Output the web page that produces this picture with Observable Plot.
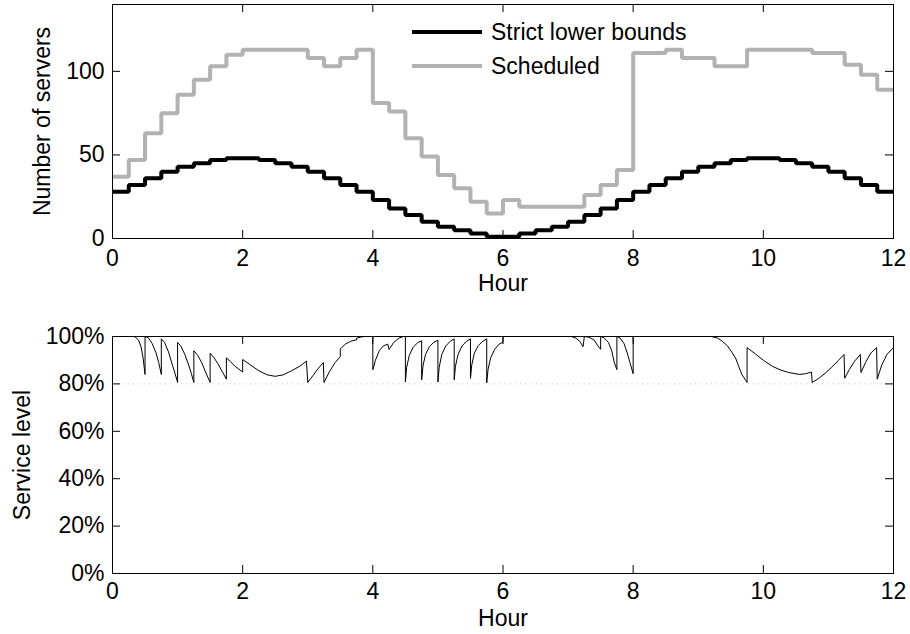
<!DOCTYPE html>
<html><head><meta charset="utf-8">
<script src="https://cdn.jsdelivr.net/npm/d3@7"></script>
<script src="https://cdn.jsdelivr.net/npm/@observablehq/plot@0.6"></script>
<style>
body{margin:0;background:#fff;}
#wrap{position:relative;width:910px;height:634px;font-family:"Liberation Sans",Arial,Helvetica,sans-serif;background:#fff;}
#wrap svg{display:block;}
.legend{position:absolute;left:412px;top:15px;font-size:23px;line-height:34px;color:#000;}
.legend div{display:flex;align-items:center;height:34px;}
.legend span.sw{display:inline-block;width:70px;height:4px;margin-right:9px;}
</style></head><body><div id="wrap"></div>
<script>
// 15-minute interval start times (hours)
const intervalStart = [0,0.25,0.5,0.75,1,1.25,1.5,1.75,2,2.25,2.5,2.75,3,3.25,3.5,3.75,
  4,4.25,4.5,4.75,5,5.25,5.5,5.75,6,6.25,6.5,6.75,7,7.25,7.5,7.75,
  8,8.25,8.5,8.75,9,9.25,9.5,9.75,10,10.25,10.5,10.75,11,11.25,11.5,11.75];
const lowerBounds = [28,32,36,40,43,45,47,48,48,47,45,43,40,36,32,28,
  23,18,14,10,7,5,3,1,1,3,5,7,10,14,18,23,
  28,32,36,40,43,45,47,48,48,47,45,43,40,36,32,28];
const scheduled = [37,47,63,75,86,95,103,110,113,113,113,113,108,103,108,113,
  81,76,60,49,38,30,22,15,23,19,19,19,19,26,32,41,
  111,111,113,108,108,103,103,113,113,113,113,111,111,104,98,89];
const endHour = 12;

// Service level trace (hour, level in %)
const slHour = [0,0.34,0.40,0.44,0.47,0.5,
  0.5,0.55,0.61,0.67,0.71,0.75,
  0.75,0.80,0.86,0.92,0.96,1.0,
  1.0,1.05,1.11,1.17,1.21,1.25,
  1.25,1.31,1.37,1.43,1.5,
  1.5,1.56,1.62,1.68,1.75,
  1.75,1.81,1.88,2.0,
  2.0,2.12,2.25,2.38,2.5,2.62,2.75,2.88,2.98,3.0,
  3.08,3.16,3.24,3.25,
  3.33,3.42,3.5,3.5,3.58,3.66,3.75,3.75,3.82,3.87,4.0,
  4.0,4.04,4.10,4.16,4.23,4.25,4.32,4.40,4.47,4.5,
  4.5,4.52,4.56,4.62,4.69,4.75,
  4.75,4.77,4.81,4.87,4.94,5.0,
  5.0,5.02,5.06,5.12,5.19,5.25,
  5.25,5.27,5.31,5.37,5.44,5.5,
  5.5,5.52,5.56,5.62,5.69,5.75,
  5.75,5.77,5.81,5.87,5.94,6.0,6.0,
  7.05,7.12,7.18,7.23,7.25,
  7.32,7.40,7.46,7.5,7.5,7.55,7.62,7.67,7.71,7.75,
  7.75,7.8,7.86,7.91,7.95,8.0,8.0,
  9.2,9.3,9.37,9.45,9.52,9.58,9.62,9.67,9.75,
  9.75,9.88,10.0,10.14,10.27,10.39,10.55,10.65,10.74,10.75,
  10.85,10.95,11.05,11.15,11.24,11.25,
  11.32,11.40,11.49,11.5,
  11.57,11.65,11.74,11.75,
  11.82,11.9,12.0];
const slLevel = [100,100,98.5,95.5,91,84,
  100,99.5,97,93,89,84,
  99,97.5,93.5,88,84.5,80.6,
  97.5,96,92.5,88,84.5,80.6,
  94,92,89,85,80.6,
  93,91,88.5,85.5,82,
  91,89.5,87.5,85,
  90.3,88,85.5,83.8,83.2,83.8,85.5,87.5,89.6,80.6,
  83.5,86.5,89,80.6,
  85,89,91.5,94.8,96.8,98,98.6,99.3,99.8,100,100,
  86,90,94,96,96.8,94.5,97.5,99.3,100,100,
  80.8,87,92,95.5,97.4,98.2,
  81.7,87.5,92.5,95.8,97.6,98.4,
  80.8,87,92.5,96,98,99,
  81.7,87.5,92.5,96,98,99,
  82.3,88,93,96.2,98,99,
  80.4,86,91,94.5,96.8,97.6,100,
  100,99.3,98,95.7,100,
  99.7,98.5,96,94.6,100,99.5,97.5,94,89,86,
  100,99.3,97,93,89,84.3,100,
  100,99.3,98,96,93.2,90.5,87.5,84,80.6,
  95.3,92.6,90,87.4,85.8,84.8,84,84.3,85,80.6,
  82.3,84.5,87,89.8,92.4,82.4,
  86,89.5,92.4,84.8,
  89,93,95.3,82,
  88,92.5,95.3];

const hourTicks = [0,2,4,6,8,10,12];
const serverTicks = [0,50,100];
const levelTicks = [0,0.2,0.4,0.6,0.8,1];
const slTarget = [0.8];

const FONT = '"Liberation Sans", Arial, Helvetica, sans-serif';
const W = 910, ML = 112, MR = 17;
const innerW = W - ML - MR;

function innerTicks(xt, yt, innerH) {
  const L = 8;
  return [
    Plot.tickX(xt, {x: d => d, insetTop: innerH - L, stroke: "black", strokeWidth: 1}),
    Plot.tickX(xt, {x: d => d, insetBottom: innerH - L, stroke: "black", strokeWidth: 1}),
    Plot.tickY(yt, {y: d => d, insetRight: innerW - L, stroke: "black", strokeWidth: 1}),
    Plot.tickY(yt, {y: d => d, insetLeft: innerW - L, stroke: "black", strokeWidth: 1})
  ];
}

function stepData(vals) {
  const d = intervalStart.map((h, i) => ({h, v: vals[i]}));
  d.push({h: endHour, v: vals[vals.length - 1]});
  return d;
}

const topH = 300, topMT = 4, topMB = 62;
const topPlot = Plot.plot({
  width: W, height: topH, marginLeft: ML, marginRight: MR, marginTop: topMT, marginBottom: topMB,
  style: {fontFamily: FONT, fontSize: "23px", color: "black", background: "white"},
  x: {domain: [0, 12], ticks: hourTicks, tickSize: 0, tickPadding: 11, label: null, tickFormat: d => String(d)},
  y: {domain: [0, 140], ticks: serverTicks, tickSize: 0, tickPadding: 8, label: null, tickFormat: d => String(d)},
  marks: [
    Plot.line(stepData(scheduled), {x: "h", y: "v", curve: "step-after", stroke: "#b2b2b2", strokeWidth: 4, strokeLinejoin: "miter", strokeLinecap: "butt"}),
    Plot.line(stepData(lowerBounds), {x: "h", y: "v", curve: "step-after", stroke: "black", strokeWidth: 4, strokeLinejoin: "miter", strokeLinecap: "butt"}),
    ...innerTicks(hourTicks, serverTicks, topH - topMT - topMB),
    Plot.frame({stroke: "black", strokeWidth: 1}),
    Plot.text(["Hour"], {frameAnchor: "bottom", dy: 36, lineAnchor: "top", textAnchor: "middle", text: d => d, fontSize: 23}),
    Plot.text(["Number of servers"], {frameAnchor: "left", dx: -70, rotate: -90, textAnchor: "middle", lineAnchor: "middle", text: d => d, fontSize: 23})
  ]
});

const botH = 334, botMT = 36, botMB = 61;
const slData = slHour.map((h, i) => ({h, v: slLevel[i] / 100}));
const botPlot = Plot.plot({
  width: W, height: botH, marginLeft: ML, marginRight: MR, marginTop: botMT, marginBottom: botMB,
  style: {fontFamily: FONT, fontSize: "23px", color: "black", background: "white"},
  x: {domain: [0, 12], ticks: hourTicks, tickSize: 0, tickPadding: 9, label: null, tickFormat: d => String(d)},
  y: {domain: [0, 1], ticks: levelTicks, tickSize: 0, tickPadding: 8, label: null, tickFormat: d => Math.round(d * 100) + "%"},
  marks: [
    Plot.ruleY(slTarget, {stroke: "#b8b8b8", strokeWidth: 1, strokeDasharray: "1,4.3"}),
    Plot.line(slData, {x: "h", y: "v", stroke: "black", strokeWidth: 1, curve: "linear"}),
    ...innerTicks(hourTicks, levelTicks, botH - botMT - botMB),
    Plot.frame({stroke: "black", strokeWidth: 1}),
    Plot.text(["Hour"], {frameAnchor: "bottom", dy: 36, lineAnchor: "top", textAnchor: "middle", text: d => d, fontSize: 23}),
    Plot.text(["Service level"], {frameAnchor: "left", dx: -90, rotate: -90, textAnchor: "middle", lineAnchor: "middle", text: d => d, fontSize: 23})
  ]
});

const wrap = document.getElementById("wrap");
wrap.appendChild(topPlot);
wrap.appendChild(botPlot);

const legend = document.createElement("div");
legend.className = "legend";
legend.innerHTML = '<div><span class="sw" style="background:#000"></span>Strict lower bounds</div>' +
                   '<div><span class="sw" style="background:#b2b2b2"></span>Scheduled</div>';
wrap.appendChild(legend);
</script>
</body></html>
